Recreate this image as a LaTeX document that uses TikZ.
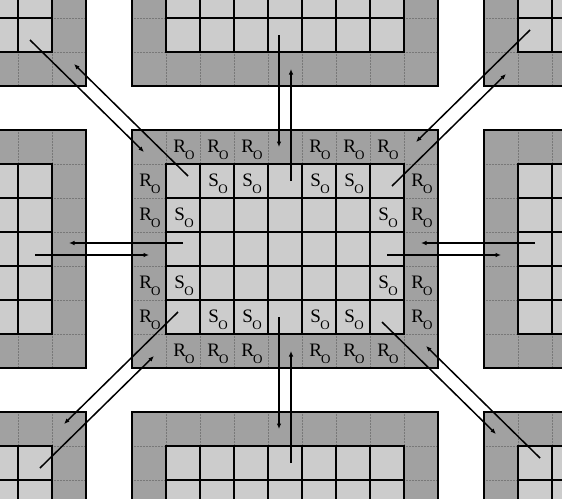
\documentclass[tikz,border=0pt]{standalone}
\usepackage{fontspec}
\setmainfont{Liberation Serif}
\usetikzlibrary{arrows.meta}
\definecolor{ringgray}{gray}{0.63}
\definecolor{cellgray}{gray}{0.80}
\definecolor{tickgray}{gray}{0.47}
\newcommand{\subO}{\raisebox{-7pt}{\fontsize{13}{13}\selectfont O}}
\newcommand{\RO}{R\kern-1pt\subO}
\newcommand{\SO}{S\kern-0.5pt\subO}
\begin{document}
\begin{tikzpicture}[x=1pt,y=-1pt,
  lbl/.style={inner sep=0pt, font=\fontsize{19}{19}\selectfont},
  link/.style={line width=1.5pt, -{Latex[length=5.5pt,width=4.5pt]}},
  gridline/.style={line width=2pt, line cap=rect},
  rim/.style={line width=1.5pt},
  ringdot/.style={tickgray, line width=0.5pt, densely dotted}]
\useasboundingbox (0,0) rectangle (562,498);
\fill[white] (0,0) rectangle (562,498);
\begin{scope}
\clip (0,0) rectangle (562,498);
\foreach \p/\dx/\dy in {c/0/0, n/0/-282, s/0/282, w/-352/0, e/352/0, nw/-352/-282, ne/352/-282, sw/-352/282, se/352/282} {
  \begin{scope}[shift={(\dx,\dy)}]
    \fill[ringgray] (132,130) rectangle (438,368);
    \fill[cellgray] (166,164) rectangle (404,334);
    \foreach \x in {166,200,...,404} {
      \draw[ringdot] (\x,130) -- (\x,164);
      \draw[ringdot] (\x,334) -- (\x,368);
    }
    \foreach \y in {164,198,...,334} {
      \draw[ringdot] (132,\y) -- (166,\y);
      \draw[ringdot] (404,\y) -- (438,\y);
    }
    \foreach \x in {166,200,...,404} \draw[gridline] (\x,164) -- (\x,334);
    \foreach \y in {164,198,...,334} \draw[gridline] (166,\y) -- (404,\y);
    \draw[rim] (132,130) rectangle (438,368);
  \end{scope}
  \foreach \i in {0,...,8} \foreach \j in {0,...,6}
    \coordinate (\p-\i-\j) at ({149+34*\i+\dx},{147+34*\j+\dy});
}
% vertical links
\draw[link] ([shift={(-6,0)}]n-4-5) -- ([shift={(-6,0)}]c-4-0);
\draw[link] ([shift={(6,0)}]c-4-1) -- ([shift={(6,0)}]n-4-6);
\draw[link] ([shift={(-6,0)}]c-4-5) -- ([shift={(-6,0)}]s-4-0);
\draw[link] ([shift={(6,0)}]s-4-1) -- ([shift={(6,0)}]c-4-6);
% horizontal links
\draw[link] ([shift={(0,-6)}]c-1-3) -- ([shift={(0,-6)}]w-8-3);
\draw[link] ([shift={(0,6)}]w-7-3) -- ([shift={(0,6)}]c-0-3);
\draw[link] ([shift={(0,6)}]c-7-3) -- ([shift={(0,6)}]e-0-3);
\draw[link] ([shift={(0,-6)}]e-1-3) -- ([shift={(0,-6)}]c-8-3);
% diagonal links
\draw[link] ([shift={(5,-5)}]c-1-1) -- ([shift={(5,-5)}]nw-8-6);
\draw[link] ([shift={(-5,5)}]nw-7-5) -- ([shift={(-5,5)}]c-0-0);
\draw[link] ([shift={(5,5)}]c-7-1) -- ([shift={(5,5)}]ne-0-6);
\draw[link] ([shift={(-5,-5)}]ne-1-5) -- ([shift={(-5,-5)}]c-8-0);
\draw[link] ([shift={(-5,-5)}]c-1-5) -- ([shift={(-5,-5)}]sw-8-0);
\draw[link] ([shift={(5,5)}]sw-7-1) -- ([shift={(5,5)}]c-0-6);
\draw[link] ([shift={(-5,5)}]c-7-5) -- ([shift={(-5,5)}]se-0-0);
\draw[link] ([shift={(5,-5)}]se-1-1) -- ([shift={(5,-5)}]c-8-6);
\end{scope}
% labels
\foreach \i/\j in {1/0,2/0,3/0,5/0,6/0,7/0, 1/6,2/6,3/6,5/6,6/6,7/6, 0/1,0/2,0/4,0/5, 8/1,8/2,8/4,8/5}
  \node[lbl] (ro-\i-\j) at ([shift={(1,3)}]c-\i-\j) {\RO};
\foreach \i/\j in {2/1,3/1,5/1,6/1, 2/5,3/5,5/5,6/5, 1/2,1/4, 7/2,7/4}
  \node[lbl] (so-\i-\j) at ([shift={(1,3)}]c-\i-\j) {\SO};
\end{tikzpicture}
\end{document}
